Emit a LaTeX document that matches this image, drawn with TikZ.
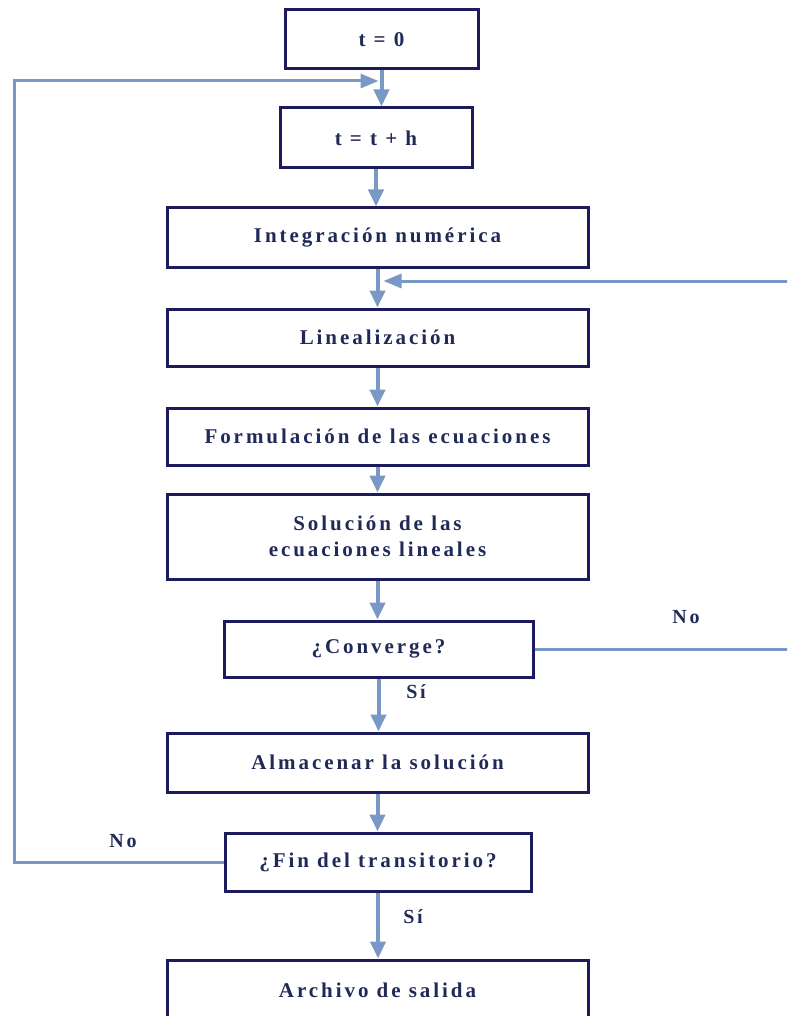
\documentclass[tikz,border=0pt]{standalone}
\usepackage{fontspec}
\setmainfont{Liberation Serif}
\newfontfamily\lblfont[LetterSpace=14]{Liberation Serif}
\usetikzlibrary{arrows.meta}
\definecolor{boxline}{RGB}{28,28,92}
\definecolor{txt}{RGB}{32,42,88}
\definecolor{arrc}{RGB}{122,152,198}
\tikzset{
  stepbox/.style={draw=boxline, line width=3pt, fill=white, rectangle, inner sep=0pt,
    font=\lblfont\bfseries\fontsize{21}{26}\selectfont, text=txt, align=center},
  lbl/.style={font=\lblfont\bfseries\fontsize{20}{24}\selectfont, text=txt, inner sep=0pt},
  arr/.style={draw=arrc, line width=4pt, -{Triangle[length=17pt,width=15pt]}},
  arrthin/.style={draw=arrc, line width=3pt, -{Triangle[length=18pt,width=14pt]}}
}
\begin{document}
\begin{tikzpicture}[x=1pt,y=-1pt]
\clip (0,0) rectangle (787,1016);
\fill[white] (0,0) rectangle (787,1016);
\node[stepbox, minimum width=193pt, minimum height=59pt] (t0) at (381.5,39.5) {t = 0};
\node[stepbox, minimum width=192pt, minimum height=60pt] (tth) at (376,138) {t = t + h};
\node[stepbox, minimum width=421pt, minimum height=59pt] (integ) at (377.5,237.5) {Integración numérica};
\node[stepbox, minimum width=421pt, minimum height=57pt] (lin) at (377.5,337.5) {Linealización};
\node[stepbox, minimum width=421pt, minimum height=57pt] (form) at (377.5,436.5) {Formulación de las ecuaciones};
\node[stepbox, minimum width=421pt, minimum height=85pt] (sol) at (377.5,536.5) {Solución de las\\ecuaciones lineales};
\node[stepbox, minimum width=309pt, minimum height=56pt] (conv) at (378.5,649) {¿Converge?};
\node[stepbox, minimum width=421pt, minimum height=59pt] (alm) at (377.5,762.5) {Almacenar la solución};
\node[stepbox, minimum width=306pt, minimum height=58pt] (fin) at (378,862) {¿Fin del transitorio?};
\node[stepbox, minimum width=421pt, minimum height=60pt] (arch) at (377.5,990) {Archivo de salida};

\coordinate (j1) at (381.5,81);
\coordinate (j2) at (377.5,281);
\coordinate (ll) at (14,81);
\coordinate (rr) at (800,281);

\draw[arr] (t0.south) -- (t0.south |- tth.north);
\draw[arr] (tth.south) -- (tth.south |- integ.north);
\draw[arr] (integ.south) -- (lin.north);
\draw[arr] (lin.south) -- (form.north);
\draw[arr] (form.south) -- (sol.north);
\draw[arr] (sol.south) -- (sol.south |- conv.north);
\draw[arr] (conv.south) -- (conv.south |- alm.north);
\draw[arr] (alm.south) -- (alm.south |- fin.north);
\draw[arr] (fin.south) -- (fin.south |- arch.north);

\draw[arrthin, shorten >=3pt] (fin.west) -| (ll) -- (j1);
\draw[arrthin, shorten >=6pt] (conv.east) -| (rr) -- (j2);

\node[lbl] (no1) at (686,617) {No};
\node[lbl] (no2) at (123,841) {No};
\node[lbl] (si1) at (416,692) {Sí};
\node[lbl] (si2) at (413,917) {Sí};
\end{tikzpicture}
\end{document}
